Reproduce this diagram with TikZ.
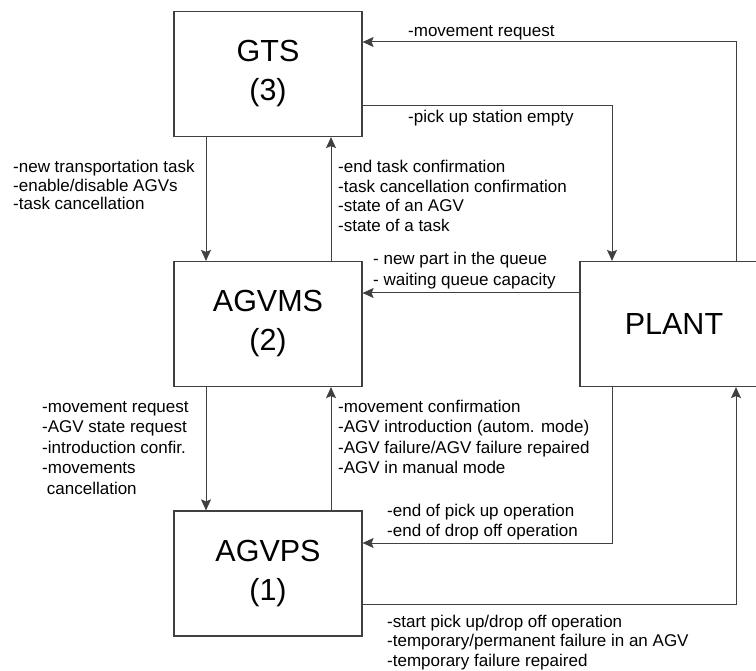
\documentclass[tikz,border=0pt]{standalone}
\usepackage{fontspec}
\setmainfont{Liberation Sans}
\usetikzlibrary{arrows.meta,calc}
\tikzset{
  sysbox/.style={draw=black!75, line width=1.2pt, minimum width=188pt, minimum height=125pt,
    align=center, inner sep=0pt, font=\fontsize{30.5}{39}\selectfont},
  arr/.style={draw=black!75, line width=1pt, -{Stealth[length=11pt,width=10pt,inset=2pt]}},
  lbl/.style={anchor=base west, align=left, inner sep=0pt, font=\fontsize{17}{19.5}\selectfont},
  lblw/.style={lbl, font=\fontsize{17}{20.5}\selectfont},
}
\begin{document}
\begin{tikzpicture}[x=1pt,y=-1pt]
\useasboundingbox (0,0) rectangle (756,671);
\node[sysbox] (gts) at (268,74) {GTS\\(3)};
\node[sysbox] (agvms) at (268,324) {AGVMS\\(2)};
\node[sysbox] (plant) at (674,324) {PLANT};
\node[sysbox] (agvps) at (268,573.5) {AGVPS\\(1)};

\coordinate (xR) at (736,0);
\coordinate (xP) at (612,0);
\coordinate (xL) at (206,0);
\coordinate (xM) at (331,0);
\coordinate (yA) at (0,42);
\coordinate (yB) at (0,106);
\coordinate (yQ) at (0,293);
\coordinate (yC) at (0,543);
\coordinate (yD) at (0,604);

\draw[arr] (plant.north -| xR) |- (gts.east |- yA);
\draw[arr] (gts.east |- yB) -| (plant.north -| xP);
\draw[arr] (gts.south -| xL) -- (agvms.north -| xL);
\draw[arr] (agvms.north -| xM) -- (gts.south -| xM);
\draw[arr] (plant.west |- yQ) -- (agvms.east |- yQ);
\draw[arr] (agvms.south -| xL) -- (agvps.north -| xL);
\draw[arr] (agvps.north -| xM) -- (agvms.south -| xM);
\draw[arr] (plant.south -| xP) |- (agvps.east |- yC);
\draw[arr] (agvps.east |- yD) -| (plant.south -| xR);

% multi-line labels: the base anchor sits on the last line's baseline
\node[lbl] (l1) at (408,37) {-movement request};
\node[lbl] (l2) at (408,123) {-pick up station empty};
\node[lbl, font=\fontsize{17}{18.5}\selectfont] (l3) at (13,210) {-new transportation task\\-enable/disable AGVs\\-task cancellation};
\node[lbl] (l4) at (338,231.5) {-end task confirmation\\-task cancellation confirmation\\-state of an AGV\\-state of a task};
\node[lblw] (l5) at (373,285.5) {- new part in the queue\\- waiting queue capacity};
\node[lblw] (l6) at (42,494) {-movement request\\-AGV state request\\-introduction confir.\\-movements\\\ cancellation};
\node[lblw] (l7) at (338,473.5) {-movement confirmation\\-AGV introduction (autom. mode)\\-AGV failure/AGV failure repaired\\-AGV in manual mode};
\node[lblw] (l8) at (387,536.5) {-end of pick up operation\\-end of drop off operation};
\node[lbl] (l9) at (387,666) {-start pick up/drop off operation\\-temporary/permanent failure in an AGV\\-temporary failure repaired};
\end{tikzpicture}
\end{document}
